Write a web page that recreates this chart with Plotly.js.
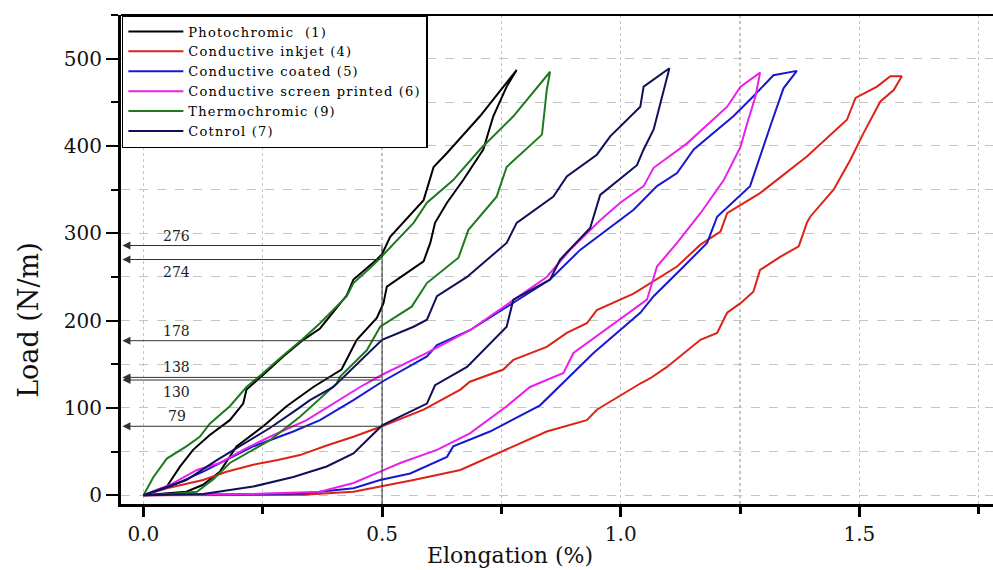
<!DOCTYPE html>
<html>
<head>
<meta charset="utf-8">
<script src="https://cdn.plot.ly/plotly-3.0.1.min.js"></script>
<style>html,body{margin:0;padding:0;background:#fff;}#chart{width:993px;height:570px;}
.legendtext{letter-spacing:1.2px;}</style>
</head>
<body>
<div id="chart"></div>
<script>
// ---- Data (Elongation %, Load N/m), each a closed loading/unloading loop ----
var seriesNames = ["Photochromic  (1)", "Conductive inkjet (4)", "Conductive coated (5)",
                   "Conductive screen printed (6)", "Thermochromic (9)", "Cotnrol (7)"];

var photoX = [0,0.049,0.077,0.104,0.139,0.181,0.209,0.216,0.251,0.293,0.335,0.37,0.426,0.44,0.489,0.5,0.517,0.587,0.608,0.636,0.705,0.782,
              0.761,0.733,0.712,0.67,0.636,0.611,0.601,0.587,0.51,0.503,0.489,0.447,0.415,0.356,0.3,0.251,0.195,0.16,0.125,0.09,0];
var photoY = [0,10,33,52,69,86,105,121,138,159,178,191,229,247,270,276,296,338,376,392,434,487,
              468,434,396,361,335,312,289,268,239,220,203,178,144,124,102,79,56,27,12,4,0];

var inkjetX = [0,0.056,0.125,0.174,0.23,0.279,0.328,0.384,0.44,0.5,0.587,0.664,0.684,0.754,0.775,0.845,0.887,0.929,0.95,1.027,1.118,1.167,1.209,1.223,1.292,1.39,1.474,1.492,1.537,1.565,1.589,
               1.572,1.544,1.509,1.481,1.446,1.397,1.39,1.373,1.334,1.292,1.278,1.251,1.223,1.202,1.167,1.097,1.062,1.041,0.95,0.929,0.845,0.775,0.664,0.566,0.496,0.44,0.335,0];
var inkjetY = [0,9,17.5,27,35,40,46,57,67,79,98,121,130,144,155,170,186,197,212,231,262,287,302,323,346,388,430,455,468,480,480,
               464,451,415,384,350,319,312,285,273,258,233,220,209,186,178,147,134,128,98,86,73,56,29,17.5,10,4,0.5,0];

var coatedX = [0,0.056,0.125,0.181,0.23,0.314,0.37,0.44,0.5,0.594,0.615,0.684,0.761,0.852,0.915,0.957,1.027,1.076,1.118,1.153,1.236,1.278,1.32,1.369,
               1.341,1.313,1.292,1.271,1.202,1.181,1.132,1.069,1.041,0.943,0.831,0.726,0.649,0.636,0.559,0.496,0.44,0.335,0];
var coatedY = [0,10,27,42,56,73,86,109,130,159,172,189,216,247,281,298,327,354,369,396,434,457,481,486,
               466,422,388,354,319,289,262,228,209,163,103,73,56,44,25,17.5,8,2,0];

var screenX = [0,0.056,0.112,0.16,0.216,0.265,0.342,0.398,0.454,0.5,0.594,0.684,0.775,0.845,0.894,0.957,0.999,1.048,1.069,1.139,1.223,1.251,1.292,
               1.282,1.265,1.251,1.216,1.167,1.118,1.076,1.055,0.978,0.901,0.88,0.81,0.761,0.684,0.615,0.538,0.496,0.44,0.37,0.23,0];
var screenY = [0,12,29,37,54,67,86,105,124,138,163,189,224,250,281,315,335,354,375,403,445,468,484,
               456,426,399,361,323,289,262,224,193,163,140,124,102,71,52,37,27,14,4,1.5,0];

var thermoX = [0,0.021,0.049,0.09,0.118,0.139,0.181,0.216,0.251,0.286,0.332,0.37,0.426,0.44,0.482,0.5,0.566,0.594,0.649,0.705,0.775,0.852,
               0.845,0.835,0.761,0.74,0.681,0.66,0.594,0.562,0.496,0.468,0.412,0.405,0.328,0.265,0.181,0.146,0.112,0.056,0];
var thermoY = [0,21,42,56,67,82,102,124,140,157,178,197,228,243,264,274,312,335,361,396,434,485,
               464,413,376,342,304,272,243,216,193,166,136,128,90,63,37,18,4,1.5,0];

var controlX = [0,0.09,0.153,0.216,0.265,0.321,0.349,0.398,0.44,0.5,0.566,0.594,0.615,0.678,0.761,0.782,0.859,0.887,0.95,0.978,1.041,1.048,1.102,
                1.083,1.069,1.048,1.034,0.957,0.936,0.873,0.852,0.775,0.761,0.678,0.611,0.594,0.5,0.44,0.384,0.314,0.23,0.125,0];
var controlY = [0,17.5,40,61,77,98,109,124,146,178,193,201,228,250,289,312,342,365,390,411,445,468,489,
                448,419,396,378,344,306,270,247,224,193,147,126,105,80,48,33,21,10,1.5,0];

// Marked loads at the reference elongation (arrow levels as drawn, and their printed labels)
var refElongation = 0.5;
var arrowLevels = [286, 270, 177, 135, 132, 79];
var markedLabels = ["276", "274", "178", "138", "130", "79"];
var labelAbove = [true, false, true, true, false, true];

var xTickVals = [0, 0.5, 1.0, 1.5];
var xTickText = ["0.0", "0.5", "1.0", "1.5"];
var yTickVals = [0, 100, 200, 300, 400, 500];

// ---- styling ----
var colors = ["#000000", "#dc2318", "#1818d0", "#ea20ea", "#1e7a1e", "#10105a"];
var xs = [photoX, inkjetX, coatedX, screenX, thermoX, controlX];
var ys = [photoY, inkjetY, coatedY, screenY, thermoY, controlY];
var serif = "DejaVu Serif, Liberation Serif, serif";

var traces = seriesNames.map(function (n, i) {
  return {x: xs[i], y: ys[i], name: n, type: "scatter", mode: "lines",
          line: {color: colors[i], width: 2}};
});

var xRange = [-0.047, 1.78];
var yRange = [-10, 550];

var annotations = [];
arrowLevels.forEach(function (v, i) {
  annotations.push({x: -0.044, y: v, ax: refElongation, ay: v, axref: "x", ayref: "y",
    xref: "x", yref: "y", text: "", showarrow: true, arrowhead: 2, arrowsize: 1.6,
    arrowwidth: 1, arrowcolor: "#333"});
  annotations.push({x: 0.07, y: v, xref: "x", yref: "y", text: markedLabels[i], showarrow: false,
    yanchor: labelAbove[i] ? "bottom" : "top", yshift: labelAbove[i] ? 0 : -2,
    font: {family: serif, size: 14, color: "#222"}});
});
annotations.push({xref: "paper", yref: "paper", x: 0.446, y: -0.106, text: "Elongation (%)",
  showarrow: false, xanchor: "center", yanchor: "middle", font: {family: serif, size: 22, color: "#111"}});
annotations.push({xref: "paper", yref: "paper", x: -0.107, y: 0.376, text: "Load (N/m)", textangle: -90,
  showarrow: false, xanchor: "center", yanchor: "middle", font: {family: serif, size: 27, color: "#111"}});

var layout = {
  width: 993, height: 570,
  margin: {l: 121, r: 0, t: 15, b: 66, pad: 0},
  paper_bgcolor: "#fff", plot_bgcolor: "#fff",
  showlegend: true,
  legend: {x: 0.001, y: 1, xanchor: "left", yanchor: "top", bgcolor: "#fff",
           bordercolor: "#000", borderwidth: 1.5, font: {family: serif, size: 13, color: "#000"},
           itemwidth: 55, tracegroupgap: 0},
  xaxis: {range: xRange, tickvals: xTickVals, ticktext: xTickText, showgrid: false, zeroline: false,
          showline: true, linecolor: "#000", linewidth: 3, ticks: "outside", ticklen: 10, tickwidth: 3,
          tickcolor: "#000", tickfont: {family: serif, size: 20, color: "#111"},
          minor: {dtick: 0.25, tick0: 0, ticks: "outside", ticklen: 7, tickwidth: 3, tickcolor: "#000",
                  showgrid: true, gridcolor: "#c4c4c4", griddash: "dot", gridwidth: 1.3}},
  yaxis: {range: yRange, tickvals: yTickVals, showgrid: false, zeroline: false,
          showline: true, linecolor: "#000", linewidth: 3, ticks: "outside", ticklen: 12, tickwidth: 2,
          tickcolor: "#000", tickfont: {family: serif, size: 20, color: "#111"},
          minor: {dtick: 50, tick0: 0, ticks: "outside", ticklen: 7, tickwidth: 2, tickcolor: "#000",
                  showgrid: true, gridcolor: "#c4c4c4", griddash: "dash", gridwidth: 1}},
  shapes: [
    {type: "line", xref: "x", yref: "y", x0: refElongation, x1: refElongation, y0: yRange[0], y1: arrowLevels[0],
     line: {color: "#333", width: 1}},
    {type: "line", xref: "paper", yref: "paper", x0: 0, x1: 1, y0: 1, y1: 1, line: {color: "#000", width: 2}}
  ],
  annotations: annotations
};

Plotly.newPlot("chart", traces, layout, {displayModeBar: false, staticPlot: true});
</script>
</body>
</html>
